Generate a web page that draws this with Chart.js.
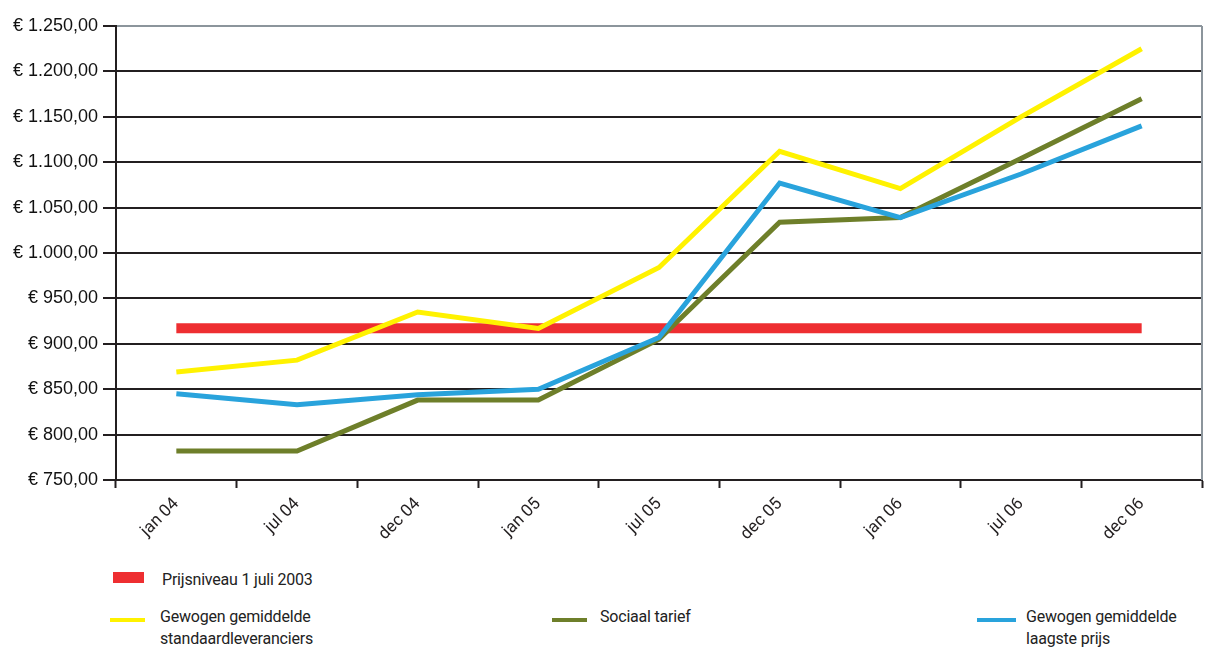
<!DOCTYPE html>
<html>
<head>
<meta charset="utf-8">
<script src="https://cdn.jsdelivr.net/npm/chart.js@4/dist/chart.umd.min.js"></script>
<style>
  body { margin: 0; background: #fff; width: 1206px; height: 648px; overflow: hidden; position: relative; }
  #wrap { position: absolute; left: 0; top: 0; width: 1206px; height: 560px; }
  .leg { position: absolute; font-family: Roboto, sans-serif; font-size: 16px; letter-spacing: -0.2px; color: #222; line-height: 22px; }
  .sw { position: absolute; }
</style>
</head>
<body>
<div id="wrap"><canvas id="chart"></canvas></div>

<div class="sw" style="left:113px; top:572px; width:31px; height:11px; background:#ee2e31;"></div>
<div class="leg" style="left:162px; top:569px;">Prijsniveau 1 juli 2003</div>

<div class="sw" style="left:110px; top:618px; width:35px; height:4px; background:#fff200;"></div>
<div class="leg" style="left:160px; top:606px;">Gewogen gemiddelde<br>standaardleveranciers</div>

<div class="sw" style="left:552px; top:618px; width:35px; height:4px; background:#6e7f2a;"></div>
<div class="leg" style="left:600px; top:606px;">Sociaal tarief</div>

<div class="sw" style="left:977px; top:618px; width:39px; height:4px; background:#29a3dc;"></div>
<div class="leg" style="left:1026px; top:606px;">Gewogen gemiddelde<br>laagste prijs</div>

<script>
// periodes
const labels = ['jan 04', 'jul 04', 'dec 04', 'jan 05', 'jul 05', 'dec 05', 'jan 06', 'jul 06', 'dec 06'];

const prijsniveau2003 = [917, 917, 917, 917, 917, 917, 917, 917, 917];
const standaardLeveranciers = [869, 882, 935, 917, 984, 1112, 1071, 1150, 1225];
const sociaalTarief = [782, 782, 838, 838, 905, 1034, 1039, 1104, 1170];
const laagstePrijs = [845, 833, 844, 850, 907, 1077, 1039, 1087, 1140];

const yMin = 750, yMax = 1250, yStep = 50;

function euro(v) {
  const int = Math.round(v).toString().replace(/\B(?=(\d{3})+(?!\d))/g, '.');
  return '€ ' + int + ',00';
}

// grijze rechterrand
const rightBorder = {
  id: 'rightBorder',
  afterDraw(chart) {
    const { ctx, chartArea } = chart;
    ctx.save();
    ctx.strokeStyle = '#8c959c';
    ctx.lineWidth = 2;
    ctx.beginPath();
    ctx.moveTo(chartArea.right, chartArea.top);
    ctx.lineTo(chartArea.right, chartArea.bottom);
    ctx.stroke();
    ctx.restore();
  }
};

const ctx = document.getElementById('chart').getContext('2d');
new Chart(ctx, {
  type: 'line',
  data: {
    labels: labels,
    datasets: [
      { label: 'Prijsniveau 1 juli 2003', data: prijsniveau2003, borderColor: '#ee2e31', borderWidth: 10, order: 4 },
      { label: 'Gewogen gemiddelde standaardleveranciers', data: standaardLeveranciers, borderColor: '#fff200', borderWidth: 5, order: 1 },
      { label: 'Sociaal tarief', data: sociaalTarief, borderColor: '#6e7f2a', borderWidth: 5, order: 3 },
      { label: 'Gewogen gemiddelde laagste prijs', data: laagstePrijs, borderColor: '#29a3dc', borderWidth: 5, order: 2 }
    ]
  },
  options: {
    responsive: true,
    maintainAspectRatio: false,
    animation: false,
    layout: { padding: { top: 26, right: 4, left: 8, bottom: 0 } },
    elements: {
      point: { radius: 0, hoverRadius: 0 },
      line: { tension: 0, borderCapStyle: 'butt', borderJoinStyle: 'miter', fill: false }
    },
    plugins: {
      legend: { display: false },
      tooltip: { enabled: false }
    },
    scales: {
      x: {
        offset: true,
        afterFit: (s) => { s.height = 80; },
        grid: {
          offset: true,
          drawOnChartArea: false,
          drawTicks: true,
          tickLength: 8,
          tickWidth: 2,
          tickColor: '#231f20'
        },
        border: { color: '#231f20', width: 2 },
        ticks: {
          minRotation: 45,
          maxRotation: 45,
          padding: 6,
          color: '#231f20',
          font: { family: 'Roboto', size: 17 }
        }
      },
      y: {
        min: yMin,
        max: yMax,
        afterFit: (s) => { s.width = 108; },
        grid: {
          color: (c) => c.tick && c.tick.value === yMax ? '#8c959c' : '#231f20',
          lineWidth: 2,
          tickLength: 13,
          tickColor: '#231f20'
        },
        border: { color: '#231f20', width: 2 },
        ticks: {
          stepSize: yStep,
          padding: 5,
          color: '#111',
          font: { family: 'Liberation Sans', size: 18 },
          callback: (v) => euro(v)
        }
      }
    }
  },
  plugins: [rightBorder]
});
</script>
</body>
</html>
